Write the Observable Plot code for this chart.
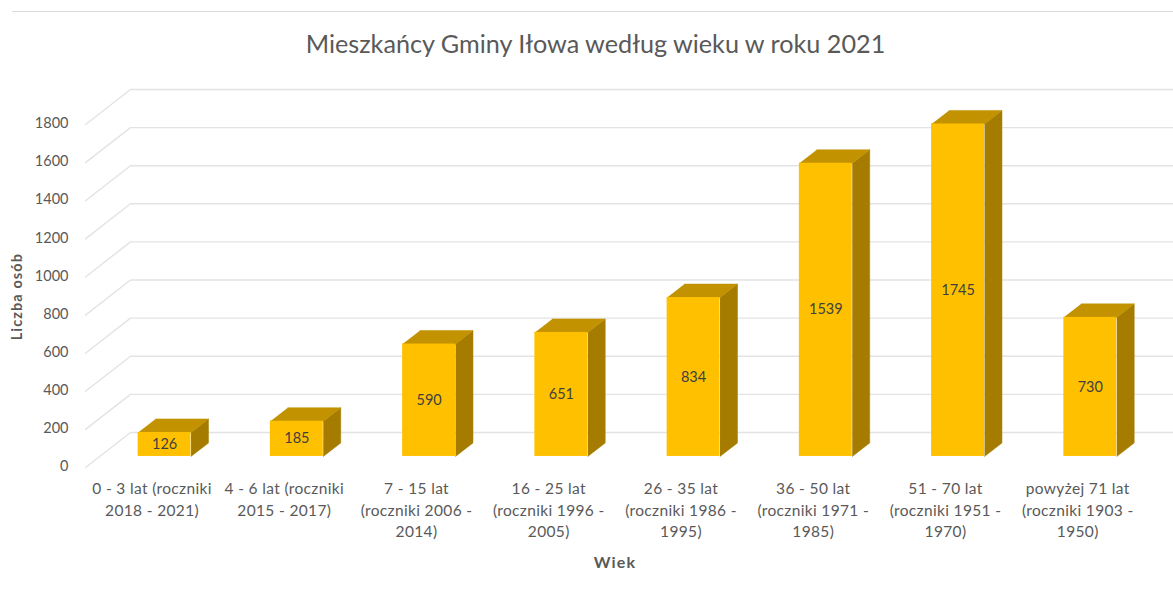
<!DOCTYPE html>
<html lang="pl">
<head>
<meta charset="utf-8">
<script src="https://cdn.jsdelivr.net/npm/d3@7"></script>
<script src="https://cdn.jsdelivr.net/npm/@observablehq/plot@0.6"></script>
<style>
  html, body { margin: 0; padding: 0; background: #fff; }
  #head { position: relative; height: 60px; width: 1173px; font-family: Lato, sans-serif; }
  #rule { position: absolute; left: 12px; right: 0; top: 11px; border-top: 1px solid #d9d9d9; }
  #title { position: absolute; left: 0; width: 1191px; top: 26px; text-align: center; font-size: 25.2px; line-height: 34px; color: #595959; }
  svg { display: block; }
  .cat-labels text { letter-spacing: 0.35px; }
  .wide-bold text { letter-spacing: 1.1px; }
</style>
</head>
<body>
<div id="head"><div id="rule"></div><div id="title"></div></div>
<div id="chart"></div>
<script>
const chartTitle = "Mieszkańcy Gminy Iłowa według wieku w roku 2021";
const categories = [
  "0 - 3 lat (roczniki\n2018 - 2021)",
  "4 - 6 lat (roczniki\n2015 - 2017)",
  "7 - 15 lat\n(roczniki 2006 -\n2014)",
  "16 - 25 lat\n(roczniki 1996 -\n2005)",
  "26 - 35 lat\n(roczniki 1986 -\n1995)",
  "36 - 50 lat\n(roczniki 1971 -\n1985)",
  "51 - 70 lat\n(roczniki 1951 -\n1970)",
  "powyżej 71 lat\n(roczniki 1903 -\n1950)"
];
const values = [126, 185, 590, 651, 834, 1539, 1745, 730];
const yTicks = [0, 200, 400, 600, 800, 1000, 1200, 1400, 1600, 1800];

document.getElementById("title").textContent = chartTitle;

// Oblique projection, expressed in data units of the x and y scales
const xMin = -0.503, xMax = 7.724;
const wallDx = 0.34, wallDy = 184;     // front plane -> back wall
const barDx = 0.095, barDy = 58;       // front plane -> bar front face
const sideDx = 0.132, sideDy = 71;     // bar front face -> bar back face
const halfW = 0.2;

const gridPts = yTicks.flatMap(v => [
  {id: v, x: xMin, y: v},
  {id: v, x: xMin + wallDx, y: v + wallDy},
  {id: v, x: xMax, y: v + wallDy}
]);
const bars = values.map((v, i) => ({
  i, v,
  x1: i + barDx - halfW, x2: i + barDx + halfW,
  y1: barDy, y2: v + barDy,
  cx: i + barDx, cy: v / 2 + barDy
}));
const topPts = bars.flatMap(b => [
  {id: b.i, x: b.x1, y: b.y2},
  {id: b.i, x: b.x2, y: b.y2},
  {id: b.i, x: b.x2 + sideDx, y: b.y2 + sideDy},
  {id: b.i, x: b.x1 + sideDx, y: b.y2 + sideDy}
]);
const sidePts = bars.flatMap(b => [
  {id: b.i, x: b.x2, y: b.y1},
  {id: b.i, x: b.x2 + sideDx, y: b.y1 + sideDy},
  {id: b.i, x: b.x2 + sideDx, y: b.y2 + sideDy},
  {id: b.i, x: b.x2, y: b.y2}
]);

const plot = Plot.plot({
  width: 1173,
  height: 535,
  marginLeft: 85,
  marginRight: 0,
  marginTop: 29,
  marginBottom: 128,
  style: {fontFamily: "Lato, sans-serif", fontSize: "14.5px", color: "#595959", background: "#fff", overflow: "visible"},
  x: {type: "linear", domain: [xMin, xMax]},
  y: {type: "linear", domain: [0, 1984]},
  marks: [
    Plot.line(gridPts, {x: "x", y: "y", z: "id", stroke: "#e3e3e3", strokeWidth: 1.4}),
    Plot.line(sidePts, {x: "x", y: "y", z: "id", fill: "#A57C00", stroke: "#A57C00", strokeWidth: 0.5}),
    Plot.line(topPts, {x: "x", y: "y", z: "id", fill: "#C29200", stroke: "#C29200", strokeWidth: 0.5}),
    Plot.rect(bars, {x1: "x1", x2: "x2", y1: "y1", y2: "y2", fill: "#FFC000"}),
    Plot.text(bars, {x: "cx", y: "cy", text: d => String(d.v), fill: "#404040", fontSize: 14.5}),
    Plot.axisY({ticks: yTicks, tickSize: 0, tickPadding: 17, dy: -1, label: null, fill: "#595959", fontSize: 14.5, tickFormat: d => String(d)}),
    Plot.axisX({
      ticks: d3.range(categories.length),
      tickFormat: i => categories[i],
      tickSize: 0,
      tickPadding: 12,
      lineHeight: 1.36,
      label: null,
      fill: "#595959",
      fontSize: 15.5,
      textOverflow: null,
      className: "cat-labels"
    }),
    Plot.text(["Wiek"], {x: [3.5], frameAnchor: "bottom", dy: 100, fontWeight: "bold", fontSize: 16, fill: "#595959", className: "wide-bold"}),
    Plot.text(["Liczba osób"], {y: [897], frameAnchor: "left", textAnchor: "middle", dx: -68, rotate: -90, fontWeight: "bold", fontSize: 14.5, fill: "#595959", className: "wide-bold"})
  ]
});
document.getElementById("chart").appendChild(plot);
</script>
</body>
</html>
